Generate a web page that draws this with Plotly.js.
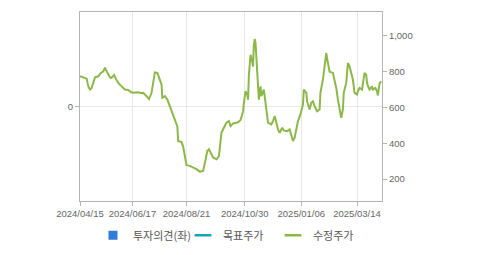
<!DOCTYPE html>
<html>
<head>
<meta charset="utf-8">
<script src="https://cdn.plot.ly/plotly-3.0.1.min.js"></script>
<style>html,body{margin:0;padding:0;background:#fff;}#chart{width:479px;height:255px;}</style>
</head>
<body>
<div id="chart"></div>
<script>
// Adjusted price (수정주가) series
var dates = [
'2024-04-15','2024-04-20','2024-04-23','2024-04-25','2024-04-27','2024-04-29','2024-05-02','2024-05-03','2024-05-07','2024-05-10',
'2024-05-13','2024-05-15','2024-05-16','2024-05-19','2024-05-21','2024-05-23','2024-05-26','2024-05-28','2024-05-31','2024-06-03',
'2024-06-06','2024-06-08','2024-06-12','2024-06-15','2024-06-18','2024-06-21','2024-06-24','2024-06-27','2024-06-30','2024-07-04',
'2024-07-07','2024-07-10','2024-07-12','2024-07-14','2024-07-17','2024-07-19','2024-07-22','2024-07-23','2024-07-26','2024-07-29',
'2024-07-31','2024-08-03','2024-08-07','2024-08-10','2024-08-11','2024-08-15','2024-08-17','2024-08-19','2024-08-21','2024-08-25',
'2024-08-29','2024-09-02','2024-09-06','2024-09-10','2024-09-13','2024-09-15','2024-09-17','2024-09-19','2024-09-22','2024-09-26',
'2024-09-29','2024-10-02','2024-10-05','2024-10-08','2024-10-11','2024-10-13','2024-10-16','2024-10-19','2024-10-22','2024-10-25',
'2024-10-28','2024-10-29','2024-10-31','2024-11-02','2024-11-03','2024-11-04','2024-11-05','2024-11-06','2024-11-08','2024-11-09',
'2024-11-10','2024-11-11','2024-11-12','2024-11-14','2024-11-15','2024-11-16','2024-11-18','2024-11-19','2024-11-22','2024-11-24',
'2024-11-26','2024-11-27','2024-12-01','2024-12-03','2024-12-05','2024-12-07','2024-12-09','2024-12-11','2024-12-14','2024-12-16',
'2024-12-20','2024-12-23','2024-12-25','2024-12-27','2024-12-29','2024-12-31','2025-01-02','2025-01-05','2025-01-08','2025-01-09',
'2025-01-12','2025-01-13','2025-01-16','2025-01-18','2025-01-20','2025-01-22','2025-01-25','2025-01-28','2025-01-29','2025-02-01',
'2025-02-02','2025-02-04','2025-02-05','2025-02-07','2025-02-09','2025-02-13','2025-02-15','2025-02-17','2025-02-19','2025-02-21',
'2025-02-23','2025-02-25','2025-02-26','2025-03-01','2025-03-02','2025-03-03','2025-03-05','2025-03-07','2025-03-09','2025-03-11',
'2025-03-14','2025-03-15','2025-03-17','2025-03-20','2025-03-21','2025-03-23','2025-03-25','2025-03-26','2025-03-28','2025-03-29',
'2025-04-01','2025-04-02','2025-04-05','2025-04-07','2025-04-08','2025-04-09','2025-04-10','2025-04-12'
];
var prices = [
774,768,761,718,700,709,746,768,774,793,
802,822,811,787,768,765,781,761,737,722,
709,700,698,686,682,683,685,681,682,663,
647,682,737,796,793,765,728,654,663,644,
617,589,533,494,413,407,382,329,278,274,
265,256,242,246,311,357,367,348,321,311,
329,459,487,515,524,496,511,515,517,531,
578,626,691,672,644,783,848,894,856,829,
950,982,959,811,709,644,718,663,700,635,
552,515,506,524,552,506,478,459,487,472,
468,478,441,413,432,478,524,561,617,700,
682,635,589,626,635,607,579,589,682,756,
793,883,904,848,800,793,756,709,644,579,
543,589,682,737,783,848,829,783,756,682,
672,691,709,700,728,793,783,737,709,700,
718,700,709,691,667,711,733,746
];
var xTickVals = ['2024-04-15','2024-06-17','2024-08-21','2024-10-30','2025-01-06','2025-03-14'];
var xTickText = ['2024/04/15','2024/06/17','2024/08/21','2024/10/30','2025/01/06','2025/03/14'];
var rightTicks = [200,400,600,800,1000];
var leftTicks = [0];
var legendNames = ['투자의견(좌)','목표주가','수정주가'];

var green = '#8cb84a';
var traces = [
  {x:[null], y:[null], type:'scatter', mode:'markers', name:legendNames[0],
   marker:{symbol:'square', size:9, color:'#2f7bd8'}, hoverinfo:'skip'},
  {x:[null], y:[null], type:'scatter', mode:'markers', name:legendNames[1],
   marker:{symbol:'line-ew', size:12, line:{color:'#1aa3b3', width:2.5}}, hoverinfo:'skip'},
  {x:[null], y:[null], type:'scatter', mode:'markers', name:legendNames[2], yaxis:'y2',
   marker:{symbol:'line-ew', size:12, line:{color:green, width:2.5}}, hoverinfo:'skip'},
  {x:dates, y:prices, type:'scatter', mode:'lines', yaxis:'y2', showlegend:false,
   line:{color:green, width:2, shape:'linear'}}
];
var axisGray = '#b4b4b4';
var tickFont = {family:'Liberation Sans, Arial, sans-serif', size:9.5, color:'#666'};
var layout = {
  width:479, height:255,
  margin:{l:80, r:97, t:12, b:54, autoexpand:false},
  paper_bgcolor:'#fff', plot_bgcolor:'#fff',
  showlegend:true,
  legend:{orientation:'h', x:0.49, xanchor:'center', y:-0.105, yanchor:'top',
    font:{family:'Noto Sans CJK KR, sans-serif', size:11, color:'#555'},
    itemwidth:30, entrywidth:45, tracegroupgap:0},
  xaxis:{type:'date', range:['2024-04-15','2025-04-13'], tickvals:xTickVals, ticktext:xTickText,
    showgrid:true, gridcolor:'#e8e8e8', gridwidth:1, showline:true, linecolor:axisGray, linewidth:1, mirror:true,
    ticks:'outside', ticklen:4, tickcolor:axisGray, tickfont:tickFont, zeroline:false, fixedrange:true, automargin:false},
  yaxis:{range:[-1,1], tickvals:leftTicks, showgrid:true, gridcolor:'#e8e8e8', zeroline:false,
    showline:true, linecolor:axisGray, mirror:true, ticks:'outside', ticklen:4, tickcolor:axisGray,
    tickfont:tickFont, automargin:false},
  yaxis2:{overlaying:'y', side:'right', range:[78,1133], tickvals:rightTicks, tickformat:',',
    showgrid:false, zeroline:false, showline:false, ticks:'outside', ticklen:4, tickcolor:axisGray,
    tickfont:tickFont, automargin:false}
};
Plotly.newPlot('chart', traces, layout, {displayModeBar:false, staticPlot:true});
</script>
</body>
</html>
